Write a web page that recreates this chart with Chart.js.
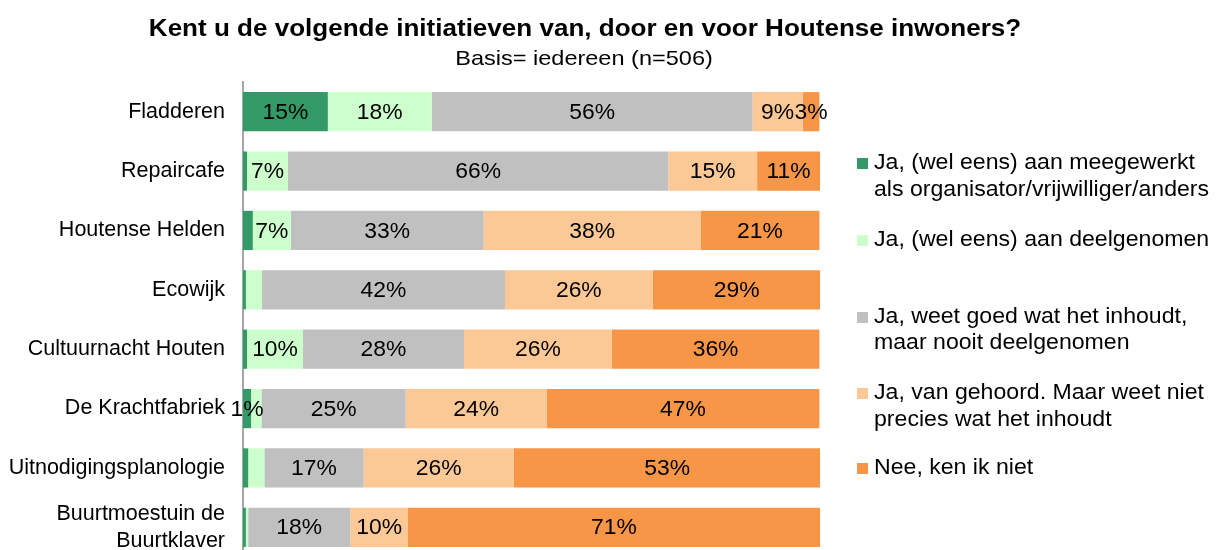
<!DOCTYPE html>
<html lang="nl">

<head>
    <meta charset="UTF-8">
    <title>Bekendheid initiatieven Houten</title>
    <script src="https://cdn.jsdelivr.net/npm/chart.js"></script>
    <style>
        body { margin: 0; background: #fff; overflow: hidden; }
        .grafiek { position: relative; width: 1217px; height: 557px; }
    </style>
</head>

<body>
    <div class="grafiek">
        <canvas id="myChartCanvas"></canvas>
    </div>

    <script>
        // Data (percentages)
        const categorieen = ['Fladderen', 'Repaircafe', 'Houtense Helden', 'Ecowijk', 'Cultuurnacht Houten',
            'De Krachtfabriek', 'Uitnodigingsplanologie', ['Buurtmoestuin de', 'Buurtklaver']];
        const meegewerkt = [14.7, 0.7, 1.7, 0.5, 0.7, 1.4, 0.9, 0.5];
        const deelgenomen = [18.0, 7.1, 6.6, 2.8, 9.7, 1.8, 2.8, 0.4];
        const weetGoed = [55.6, 65.9, 33.4, 42.1, 27.9, 25.0, 17.2, 17.7];
        const gehoord = [8.7, 15.4, 37.6, 25.6, 25.6, 24.4, 26.0, 10.0];
        const kenIkNiet = [2.9, 10.9, 20.6, 29.1, 36.0, 47.3, 53.2, 71.4];

        const reeksNamen = [
            ['Ja, (wel eens) aan meegewerkt', 'als organisator/vrijwilliger/anders'],
            ['Ja, (wel eens) aan deelgenomen'],
            ['Ja, weet goed wat het inhoudt,', 'maar nooit deelgenomen'],
            ['Ja, van gehoord. Maar weet niet', 'precies wat het inhoudt'],
            ['Nee, ken ik niet']
        ];
        const kleuren = ['#339966', '#CCFFCC', '#C0C0C0', '#FCC895', '#F79646'];

        // labels die in de figuur niet getoond worden: "reeks:categorie"
        const verborgenLabels = ['0:1', '0:2', '0:3', '0:4', '0:6', '0:7', '1:3', '1:5', '1:6', '1:7'];

        const titel = 'Kent u de volgende initiatieven van, door en voor Houtense inwoners?';
        const ondertitel = 'Basis= iedereen (n=506)';

        const lettertype = "'Liberation Sans', Arial, sans-serif";

        // tekst iets breder tekenen (het origineel is horizontaal uitgerekt)
        function brdTekst(ctx, tekst, x, y, rek) {
            ctx.save();
            ctx.translate(x, y);
            ctx.scale(rek, 1);
            ctx.fillText(tekst, 0, 0);
            ctx.restore();
        }

        // Plugin voor titel, legenda en percentages in de balken
        const tekstPlugin = {
            id: 'tekstPlugin',
            afterDatasetsDraw(chart) {
                const ctx = chart.ctx;
                ctx.save();
                ctx.fillStyle = '#000';
                ctx.textAlign = 'center';
                ctx.textBaseline = 'middle';
                ctx.font = '22px ' + lettertype;
                chart.data.datasets.forEach(function (ds, i) {
                    const meta = chart.getDatasetMeta(i);
                    meta.data.forEach(function (bar, j) {
                        if (verborgenLabels.includes(i + ':' + j)) return;
                        const waarde = ds.data[j];
                        brdTekst(ctx, Math.round(waarde) + '%', (bar.x + bar.base) / 2, bar.y + 1, 1.04);
                    });
                });
                ctx.restore();
            },
            afterDraw(chart) {
                const ctx = chart.ctx;
                ctx.save();
                ctx.fillStyle = '#000';
                ctx.textBaseline = 'middle';

                // titel
                ctx.textAlign = 'center';
                ctx.font = 'bold 23px ' + lettertype;
                brdTekst(ctx, titel, 585, 30, 1.132);
                ctx.font = '21px ' + lettertype;
                brdTekst(ctx, ondertitel, 584, 59, 1.12);

                // legenda
                const regels = [[163, 190], [240], [317, 343], [393, 420], [468]];
                ctx.textAlign = 'left';
                ctx.font = '22px ' + lettertype;
                reeksNamen.forEach(function (naam, i) {
                    ctx.fillStyle = kleuren[i];
                    ctx.fillRect(857, regels[i][0] - 5, 11, 11);
                    ctx.fillStyle = '#000';
                    naam.forEach(function (tekst, k) {
                        brdTekst(ctx, tekst, 874, regels[i][k], 1.05);
                    });
                });
                ctx.restore();
            }
        };

        const reeksen = [meegewerkt, deelgenomen, weetGoed, gehoord, kenIkNiet];

        const dados = {
            labels: categorieen,
            datasets: reeksen.map(function (reeks, i) {
                return {
                    label: reeksNamen[i].join(' '),
                    data: reeks,
                    backgroundColor: kleuren[i],
                    borderWidth: 0,
                    categoryPercentage: 1,
                    barPercentage: 0.66
                };
            })
        };

        const config = {
            type: 'bar',
            data: dados,
            options: {
                indexAxis: 'y',
                responsive: true,
                maintainAspectRatio: false,
                animation: false,
                layout: {
                    padding: { top: 82, right: 397, bottom: 0, left: 0 }
                },
                plugins: {
                    legend: { display: false },
                    title: { display: false },
                    tooltip: { enabled: false }
                },
                scales: {
                    x: {
                        stacked: true,
                        min: 0,
                        max: 100,
                        display: false
                    },
                    y: {
                        stacked: true,
                        grid: { display: false, drawTicks: false },
                        border: { display: true, color: '#A6A6A6', width: 2 },
                        ticks: {
                            color: '#000',
                            padding: 18,
                            font: { family: lettertype, size: 21.5, lineHeight: 1.25 }
                        },
                        afterFit: function (scale) {
                            scale.width = 243;
                            scale.paddingTop = 0;
                            scale.paddingBottom = 0;
                        }
                    }
                }
            },
            plugins: [tekstPlugin]
        };

        let myChart = new Chart(document.getElementById('myChartCanvas'), config);
    </script>
</body>

</html>
